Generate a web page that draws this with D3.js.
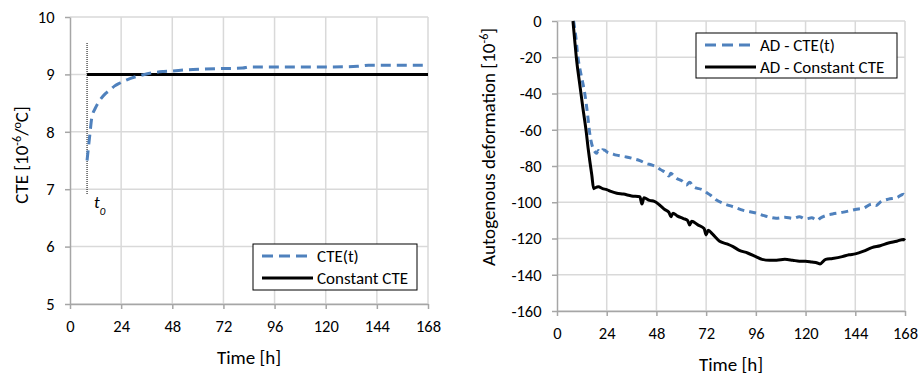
<!DOCTYPE html>
<html>
<head>
<meta charset="utf-8">
<script src="https://cdn.jsdelivr.net/npm/d3@7"></script>
<style>
  body { margin: 0; background: #fff; }
  svg { font-family: Carlito, Lato, "Open Sans", sans-serif; }
</style>
</head>
<body>
<div id="chart"></div>
<script>
// ---- data, left panel ----
var timeTicks = [0, 24, 48, 72, 96, 120, 144, 168];
var cteTicks = [5, 6, 7, 8, 9, 10];
var t0 = 8;
var cteTime = [8, 9.4, 10.2, 12, 14, 16.5, 18.8, 21, 23.5, 27, 30, 34, 39, 44, 48, 55, 61, 70, 81, 84, 100, 120, 135, 140, 168];
var cteValues = [7.5, 7.98, 8.24, 8.42, 8.55, 8.66, 8.73, 8.8, 8.85, 8.91, 8.95, 8.99, 9.03, 9.05, 9.06, 9.08, 9.09, 9.1, 9.11, 9.13, 9.13, 9.13, 9.14, 9.16, 9.16];
var constTime = [8, 168];
var constValues = [9, 9];

// ---- data, right panel ----
var adTicks = [0, -20, -40, -60, -80, -100, -120, -140, -160];
var adCteTime = [8, 9, 10.1, 11.5, 13.4, 14.6, 15.8, 17.4, 18.2, 19, 20, 21, 22, 23, 24.5, 26, 28.7, 31, 33.5, 37, 40, 43, 46, 48, 50, 52.8, 54, 55, 56, 58, 60, 62.5, 64, 66, 70.5, 72, 74, 77, 80, 85, 90, 96.3, 100, 105.8, 110, 113.8, 117, 120, 123, 125.7, 127, 129.7, 133, 137.7, 141, 144, 148, 152, 154, 156, 160, 164, 167.3, 168];
var adCteValues = [0, -8, -20, -29, -40, -50, -62, -70.3, -72, -73, -71.5, -72.5, -71, -71.3, -72.5, -73, -74, -74.5, -75, -76, -77, -78.6, -79.5, -80.4, -82, -84, -85.5, -84, -85, -87, -88, -90.5, -89, -91.5, -93.3, -94.5, -96, -98.8, -100.5, -102.5, -104.5, -106, -107.4, -108.8, -108.3, -108.9, -108, -109.2, -108.6, -110, -108.8, -107.4, -106.5, -105.6, -104.8, -104, -103.2, -101, -101.8, -100, -98.3, -97.5, -95.6, -96.5];
var adConstTime = [7.7, 8.5, 9.5, 11, 12.5, 14.2, 15, 15.8, 16.8, 17.7, 18.5, 20, 22, 24, 26, 28.9, 32, 36, 40, 41, 42, 44.7, 47, 49.5, 52, 54, 55, 56, 58, 61, 63, 64, 65, 68, 71, 72, 73, 75, 78.5, 82, 85, 88, 92, 96, 99, 102.6, 106, 110, 113.8, 117, 120, 123, 125.7, 127, 129.7, 133, 137.7, 141, 144, 148, 152, 156, 160, 164, 167.3, 168];
var adConstValues = [0, -10, -22, -35, -48, -62, -70, -77, -85, -92.5, -92, -91.5, -92.5, -93, -94, -95, -95.5, -96.5, -97, -101, -97.5, -99, -99.5, -101.5, -104, -105.5, -108, -106, -107.5, -109, -110, -112.5, -110.5, -112.5, -114.5, -118, -115.5, -117.5, -121.5, -123, -124.5, -126.5, -128, -130, -131.5, -132, -132, -131.5, -132, -132.5, -132.5, -133, -133.5, -134, -131.5, -131, -130, -129, -128.5, -127, -125, -124, -122.5, -121.5, -120.5, -121];

var W = 921, H = 375;
var blue = "#4f81bd";
var gridColor = "#d9d9d9";
var axisColor = "#a6a6a6";

var svg = d3.select("#chart").append("svg")
  .attr("width", W)
  .attr("height", H);

function drawPanel(opt) {
  var g = svg.append("g");
  var x = d3.scaleLinear().domain([0, 168]).range([opt.left, opt.right]);
  var y = d3.scaleLinear().domain(opt.yDomain).range([opt.bottom, opt.top]);

  // grid
  g.selectAll(".vgrid").data(timeTicks.slice(1)).enter().append("line")
    .attr("x1", function(d) { return x(d); })
    .attr("x2", function(d) { return x(d); })
    .attr("y1", opt.top).attr("y2", opt.bottom)
    .attr("stroke", gridColor).attr("stroke-width", 1.5);
  g.selectAll(".hgrid").data(opt.yTicks).enter().append("line")
    .attr("x1", opt.left).attr("x2", opt.right)
    .attr("y1", function(d) { return y(d); })
    .attr("y2", function(d) { return y(d); })
    .attr("stroke", gridColor).attr("stroke-width", 1.5);

  // axes (plain hyphen for negatives, like the original)
  var fmt = function(d) { return String(d); };
  var xAxis = d3.axisBottom(x).tickValues(timeTicks).tickFormat(fmt)
    .tickSize(5).tickSizeOuter(0);
  var yAxis = d3.axisLeft(y).tickValues(opt.yTicks).tickFormat(fmt)
    .tickSize(5).tickSizeOuter(0);
  var gx = g.append("g").attr("transform", "translate(0," + opt.bottom + ")").call(xAxis);
  var gy = g.append("g").attr("transform", "translate(" + opt.left + ",0)").call(yAxis);
  [gx, gy].forEach(function(a) {
    a.selectAll("path, line").attr("stroke", axisColor).attr("stroke-width", 1.5);
    a.selectAll("text").attr("fill", "#000").style("font-size", "16.5px")
      .style("font-family", "Carlito, Lato, sans-serif");
  });
  gx.selectAll("text").attr("dy", "1.2em");
  gy.selectAll("text").attr("dx", "-0.45em");

  g.append("text")
    .attr("x", (opt.left + opt.right) / 2)
    .attr("y", opt.xTitleY)
    .attr("text-anchor", "middle")
    .style("font-size", "19px")
    .text("Time [h]");

  var yt = g.append("text")
    .attr("transform", "translate(" + opt.yTitleX + "," + opt.yTitleY + ") rotate(-90)")
    .attr("text-anchor", "middle")
    .style("font-size", "19px");
  opt.yTitle(yt);

  return { g: g, x: x, y: y };
}

function lineOf(p, xs, ys) {
  var pts = xs.map(function(t, i) { return [p.x(t), p.y(ys[i])]; });
  return d3.line().curve(d3.curveMonotoneX)(pts);
}

function legend(g, x0, y0, w, h, items) {
  g.append("rect").attr("x", x0).attr("y", y0).attr("width", w).attr("height", h)
    .attr("fill", "#fff").attr("stroke", "#000").attr("stroke-width", 1);
  items.forEach(function(it, i) {
    var cy = y0 + 12 + i * 22;
    g.append("line").attr("x1", x0 + 9).attr("x2", x0 + 60)
      .attr("y1", cy).attr("y2", cy)
      .attr("stroke", it.color).attr("stroke-width", 3)
      .attr("stroke-dasharray", it.dash || null);
    g.append("text").attr("x", x0 + 64).attr("y", cy).attr("dy", "0.35em")
      .style("font-size", "17px").text(it.label);
  });
}

// ---- left panel ----
var left = drawPanel({
  left: 70, right: 428, top: 17, bottom: 304,
  yDomain: [5, 10], yTicks: cteTicks,
  xTitleY: 364, yTitleX: 28, yTitleY: 155,
  yTitle: function(t) {
    t.append("tspan").text("CTE [10");
    t.append("tspan").attr("baseline-shift", "super").style("font-size", "12px").text("-6");
    t.append("tspan").text("/");
    t.append("tspan").attr("baseline-shift", "super").style("font-size", "12px").text("o");
    t.append("tspan").text("C]");
  }
});

left.g.append("line")
  .attr("x1", left.x(t0)).attr("x2", left.x(t0))
  .attr("y1", 43).attr("y2", 195)
  .attr("stroke", "#000").attr("stroke-width", 1).attr("stroke-dasharray", "1,1");
left.g.append("text")
  .attr("x", left.x(t0) + 7).attr("y", 208)
  .style("font-size", "17px").style("font-style", "italic")
  .text("t").append("tspan").attr("baseline-shift", "sub").style("font-size", "11px").text("0");

left.g.append("path")
  .attr("d", lineOf(left, constTime, constValues))
  .attr("fill", "none").attr("stroke", "#000").attr("stroke-width", 3);
left.g.append("path")
  .attr("d", lineOf(left, cteTime, cteValues))
  .attr("fill", "none").attr("stroke", blue).attr("stroke-width", 3)
  .attr("stroke-dasharray", "10,6");

legend(left.g, 253, 244, 164, 46, [
  { label: "CTE(t)", color: blue, dash: "11,6" },
  { label: "Constant CTE", color: "#000" }
]);

// ---- right panel ----
var right = drawPanel({
  left: 557, right: 905, top: 21, bottom: 311,
  yDomain: [-160, 0], yTicks: adTicks,
  xTitleY: 371, yTitleX: 495, yTitleY: 147,
  yTitle: function(t) {
    t.append("tspan").text("Autogenous deformation [10");
    t.append("tspan").attr("baseline-shift", "super").style("font-size", "12px").text("-6");
    t.append("tspan").text("]");
  }
});

right.g.append("path")
  .attr("d", lineOf(right, adCteTime, adCteValues))
  .attr("fill", "none").attr("stroke", blue).attr("stroke-width", 3)
  .attr("stroke-dasharray", "7,5");
right.g.append("path")
  .attr("d", lineOf(right, adConstTime, adConstValues))
  .attr("fill", "none").attr("stroke", "#000").attr("stroke-width", 3);

legend(right.g, 696, 33, 201, 45, [
  { label: "AD - CTE(t)", color: blue, dash: "11,6" },
  { label: "AD - Constant CTE", color: "#000" }
]);
</script>
</body>
</html>
